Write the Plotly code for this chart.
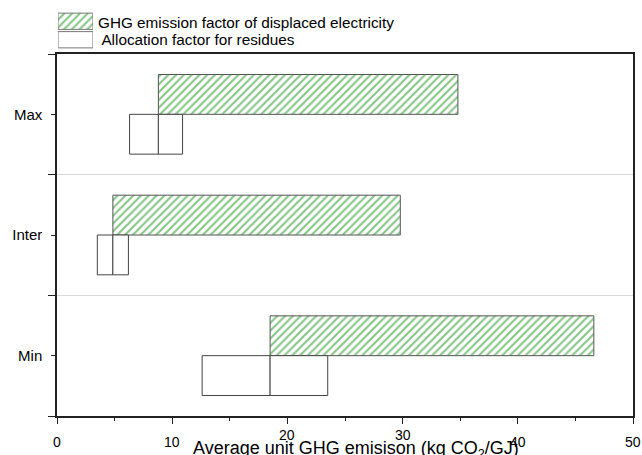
import plotly.graph_objects as go

# Scenarios (bottom to top) and GHG values in kg CO2/GJ
scenarios = ["Min", "Inter", "Max"]
base_value = [18.5, 4.85, 8.8]          # shared starting point of both ranges
electricity_high = [46.6, 29.8, 34.8]   # upper end, displaced electricity factor
allocation_low = [12.6, 3.5, 6.3]       # lower end, allocation factor
allocation_high = [23.5, 6.2, 10.9]     # upper end, allocation factor

x_ticks = [0, 10, 20, 30, 40, 50]
x_minor_ticks = [5, 15, 25, 35, 45]

legend_labels = [
    "GHG emission factor of displaced electricity",
    " Allocation factor for residues",
]
x_title = "Average unit GHG emisison (kg CO<sub>2</sub>/GJ)"

FONT = "Liberation Sans, Arial, sans-serif"
GREEN = "#128c12"
EDGE = "#444444"
BAR_H = 0.33
HATCH = dict(shape="/", fgcolor=GREEN, bgcolor="white", size=5.5, solidity=0.4)

ypos = list(range(len(scenarios)))

fig = go.Figure()

# Hatched bars: displaced-electricity range, above the scenario line
fig.add_trace(go.Bar(
    y=ypos,
    base=base_value,
    x=[h - b for h, b in zip(electricity_high, base_value)],
    orientation="h",
    width=BAR_H,
    offset=0,
    marker=dict(color="white", line=dict(color="#555555", width=1), pattern=HATCH),
    showlegend=False,
    hoverinfo="skip",
))

# Open boxes: allocation-factor range, split at the shared base value
fig.add_trace(go.Bar(
    y=ypos,
    base=allocation_low,
    x=[b - l for b, l in zip(base_value, allocation_low)],
    orientation="h",
    width=BAR_H,
    offset=-BAR_H,
    marker=dict(color="white", line=dict(color=EDGE, width=1)),
    showlegend=False,
    hoverinfo="skip",
))
fig.add_trace(go.Bar(
    y=ypos,
    base=base_value,
    x=[h - b for h, b in zip(allocation_high, base_value)],
    orientation="h",
    width=BAR_H,
    offset=-BAR_H,
    marker=dict(color="white", line=dict(color=EDGE, width=1)),
    showlegend=False,
    hoverinfo="skip",
))

# Legend swatches drawn on a small auxiliary axis above the plot
W, H = 642, 455
fig.add_trace(go.Bar(
    y=[1], x=[1], base=[0], orientation="h", width=0.88,
    xaxis="x2", yaxis="y2",
    marker=dict(color="white", line=dict(color="#777777", width=1), pattern=HATCH),
    showlegend=False, hoverinfo="skip",
))
fig.add_trace(go.Bar(
    y=[0], x=[1], base=[0], orientation="h", width=0.88,
    xaxis="x2", yaxis="y2",
    marker=dict(color="white", line=dict(color="#777777", width=1)),
    showlegend=False, hoverinfo="skip",
))

ML, MR, MT, MB = 57, 9, 6, 39
pw = W - ML - MR
ph = H - MT - MB
PLOT_TOP = 54  # pixel row of the main frame's top edge


def px_to_xdom(px):
    return (px - ML) / pw


def px_to_ydom(py):
    return (H - MB - py) / ph


for i, label in enumerate(legend_labels):
    fig.add_annotation(
        x=px_to_xdom(96), y=px_to_ydom(22 + i * 18),
        xref="paper", yref="paper",
        text=label, showarrow=False,
        xanchor="left", yanchor="middle",
        font=dict(family=FONT, size=15.3, color="black"),
    )

# X tick labels; the two under the axis title sit a little higher
for v in x_ticks:
    raised = 15 <= v <= 35
    fig.add_annotation(
        x=v, y=px_to_ydom(425 if raised else 432),
        xref="x", yref="paper",
        text=str(v), showarrow=False,
        xanchor="center", yanchor="top",
        font=dict(family=FONT, size=14, color="black"),
    )

fig.add_annotation(
    x=px_to_xdom(356), y=px_to_ydom(449),
    xref="paper", yref="paper",
    text=x_title, showarrow=False,
    xanchor="center", yanchor="middle",
    font=dict(family=FONT, size=18, color="black"),
)

fig.update_layout(
    width=W, height=H,
    margin=dict(l=ML, r=MR, t=MT, b=MB, autoexpand=False),
    paper_bgcolor="white",
    plot_bgcolor="white",
    barmode="overlay",
    showlegend=False,
    font=dict(family=FONT, size=13, color="black"),
    xaxis=dict(
        range=[0, 50],
        tickvals=x_ticks,
        showticklabels=False,
        ticks="outside", ticklen=6, tickwidth=1.2, tickcolor="#222222",
        minor=dict(tickvals=x_minor_ticks, ticks="outside", ticklen=3,
                   tickwidth=1.2, tickcolor="#222222"),
        showline=True, linecolor="#222222", linewidth=1.5, mirror=True,
        showgrid=False, zeroline=False,
        automargin=False,
    ),
    yaxis=dict(
        domain=[0, px_to_ydom(PLOT_TOP)],
        range=[-0.5, 2.5],
        tickvals=ypos, ticktext=scenarios,
        ticks="outside", ticklen=4, tickwidth=1.2, tickcolor="#222222",
        ticklabelstandoff=6,
        minor=dict(tickvals=[-0.5, 0.5, 1.5, 2.5], ticks="outside", ticklen=7,
                   tickwidth=1.2, tickcolor="#222222",
                   showgrid=True, gridcolor="#d9d9d9", gridwidth=1),
        showline=True, linecolor="#222222", linewidth=1.5, mirror=True,
        showgrid=False, zeroline=False,
        tickfont=dict(family=FONT, size=15),
        automargin=False,
    ),
    xaxis2=dict(
        domain=[px_to_xdom(58), px_to_xdom(93)],
        range=[0, 1], anchor="y2",
        visible=False, fixedrange=True,
    ),
    yaxis2=dict(
        domain=[px_to_ydom(49), px_to_ydom(12)],
        range=[-0.5, 1.5], anchor="x2",
        visible=False, fixedrange=True,
    ),
)

fig.write_html("out.html")
